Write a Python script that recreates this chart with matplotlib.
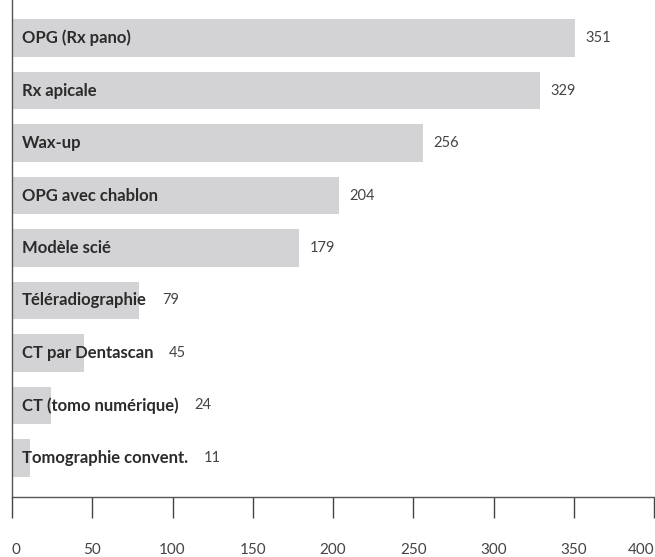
import matplotlib.pyplot as plt

# Data
categories = ['OPG (Rx pano)', 'Rx apicale', 'Wax-up', 'OPG avec chablon',
              'Modèle scié', 'Téléradiographie', 'CT par Dentascan',
              'CT (tomo numérique)', 'Tomographie convent.']
values = [351, 329, 256, 204, 179, 79, 45, 24, 11]
xticks = [0, 50, 100, 150, 200, 250, 300, 350, 400]

plt.rcParams['font.family'] = ['Lato', 'DejaVu Sans']

fig = plt.figure(figsize=(6.55, 5.57), dpi=100)
ax = fig.add_axes([12/655, 1 - 497/557, 642/655, 497/557])

pos = list(range(len(categories)))
ax.barh(pos, values, height=0.72, color='#d3d3d5')

ax.set_xlim(0, 400)
ax.set_ylim(8.743, -0.724)

# category names inside the bars
names = []
for y, cat in zip(pos, categories):
    t = ax.text(6, y, cat, ha='left', va='center', fontsize=12,
                fontweight='bold', color='#2b2b2b')
    names.append(t)

# value labels after the bar, or after the name when that ends later
fig.canvas.draw()
r = fig.canvas.get_renderer()
for y, v, t in zip(pos, values, names):
    bb = t.get_window_extent(renderer=r)
    bar_px = ax.transData.transform((v, y))[0]
    x_px = max(bar_px + 10, bb.x1 + 16)
    xd = ax.transData.inverted().transform((x_px, 0))[0]
    ax.text(xd, y, str(v), ha='left', va='center',
            fontsize=10.5, color='#444444')

ax.set_yticks([])
ax.set_xticks(xticks)
ax.set_xticklabels([str(t) for t in xticks])
labels = ax.get_xticklabels()
labels[0].set_ha('left')
labels[-1].set_ha('right')

ax.tick_params(axis='x', direction='out', length=15, width=1, color='#444444',
               pad=18, labelsize=11, labelcolor='#444444')
for s in ['top', 'right']:
    ax.spines[s].set_visible(False)
for s in ['left', 'bottom']:
    ax.spines[s].set_color('#555555')
    ax.spines[s].set_linewidth(1)

plt.savefig('out.png', dpi=100)
